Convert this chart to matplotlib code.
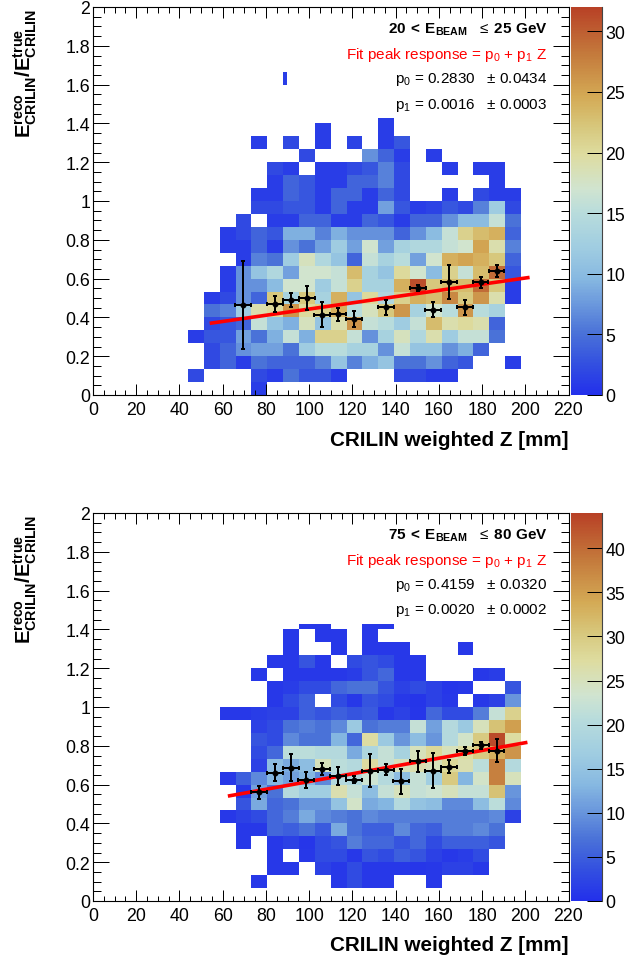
#!/usr/bin/env python3
"""Peak response of the CRILIN calorimeter versus weighted Z for two beam energies"""

import numpy as np
import matplotlib
matplotlib.use('Agg')
import matplotlib.pyplot as plt
from matplotlib.colors import LinearSegmentedColormap
from matplotlib.patches import Rectangle
from matplotlib.ticker import MultipleLocator, FixedLocator

plt.rcParams['font.family'] = ['Liberation Sans', 'DejaVu Sans']
plt.rcParams['mathtext.fontset'] = 'custom'
plt.rcParams['mathtext.rm'] = 'Liberation Sans'
plt.rcParams['mathtext.bf'] = 'Liberation Sans:bold'
plt.rcParams['mathtext.default'] = 'regular'

# histogram bins that hold entries start at this x bin
FIRST_COL = 6

# counts per cell, one row per y bin from the bottom, 0 means empty
counts_low = [
    [0, 0, 0, 0, 1, 0, 0, 0, 0, 0, 0, 0, 0, 0, 0, 0, 0, 0, 0, 0, 0],
    [2, 0, 0, 0, 2, 1, 5, 3, 3, 1, 0, 0, 0, 2, 2, 1, 1, 0, 0, 0, 0],
    [0, 2, 4, 1, 5, 4, 4, 4, 6, 11, 6, 9, 11, 5, 5, 7, 4, 3, 0, 0, 1],
    [0, 2, 4, 7, 8, 8, 5, 12, 15, 15, 13, 13, 7, 16, 11, 11, 7, 9, 4, 0, 0],
    [1, 3, 3, 8, 5, 9, 16, 9, 21, 21, 16, 7, 13, 18, 14, 19, 12, 16, 16, 5, 0],
    [0, 2, 3, 4, 16, 11, 9, 18, 11, 19, 26, 16, 15, 12, 16, 23, 19, 20, 19, 4, 0],
    [0, 5, 6, 12, 19, 20, 26, 20, 21, 24, 15, 18, 22, 26, 13, 17, 15, 26, 15, 13, 0],
    [0, 1, 2, 7, 4, 22, 13, 22, 13, 24, 11, 20, 14, 21, 24, 23, 27, 22, 26, 19, 1],
    [0, 0, 1, 7, 7, 10, 17, 17, 12, 16, 21, 13, 13, 24, 31, 22, 23, 23, 29, 22, 1],
    [0, 0, 1, 7, 11, 14, 8, 17, 17, 16, 23, 13, 11, 20, 17, 10, 21, 16, 23, 29, 3],
    [0, 0, 0, 1, 6, 5, 12, 18, 14, 11, 4, 16, 13, 15, 8, 17, 24, 25, 24, 22, 4],
    [0, 0, 1, 1, 4, 1, 7, 5, 8, 12, 8, 17, 8, 13, 14, 14, 16, 17, 25, 19, 6],
    [0, 0, 1, 2, 4, 3, 9, 9, 6, 9, 7, 7, 7, 4, 7, 10, 16, 21, 23, 24, 4],
    [0, 0, 0, 2, 0, 1, 1, 4, 4, 1, 1, 4, 3, 1, 4, 4, 7, 10, 10, 16, 5],
    [0, 0, 0, 0, 2, 2, 3, 3, 1, 4, 1, 1, 8, 3, 1, 1.5, 3, 2, 6, 12, 2],
    [0, 0, 0, 0, 1, 1, 4, 3, 1, 4, 4, 1, 4, 2, 0, 0, 1, 0, 2, 1, 1],
    [0, 0, 0, 0, 0, 1, 4, 3, 1, 1, 4, 4, 6, 2, 0, 0, 0, 0, 0, 1, 0],
    [0, 0, 0, 0, 0, 2, 1, 0, 1, 1, 2, 3, 6, 2, 0, 0, 1, 0, 1, 1, 0],
    [0, 0, 0, 0, 0, 0, 0, 2, 0, 0, 0, 7, 4, 1, 0, 1, 0, 0, 0, 0, 0],
    [0, 0, 0, 0, 1, 0, 2, 0, 1, 0, 1.5, 0, 1, 3, 0, 0, 0, 0, 0, 0, 0],
    [0, 0, 0, 0, 0, 0, 0, 0, 1, 0, 0, 0, 1, 0, 0, 0, 0, 0, 0, 0, 0],
    [0, 0, 0, 0, 0, 0, 0, 0, 0, 0, 0, 0, 1, 0, 0, 0, 0, 0, 0, 0, 0],
    [0, 0, 0, 0, 0, 0, 0, 0, 0, 0, 0, 0, 0, 0, 0, 0, 0, 0, 0, 0, 0],
    [0, 0, 0, 0, 0, 0, 0, 0, 0, 0, 0, 0, 0, 0, 0, 0, 0, 0, 0, 0, 0],
    [0, 0, 0, 0, 0, 0, 1, 0, 0, 0, 0, 0, 0, 0, 0, 0, 0, 0, 0, 0, 0],
]

counts_high = [
    [0, 0, 0, 0, 0, 0, 0, 0, 0, 0, 0, 0, 0, 0, 0, 0, 0, 0, 0, 0, 0],
    [0, 0, 0, 0, 1, 0, 0, 0, 0, 1, 3, 1, 1, 0, 0, 1, 0, 0, 0, 0, 0],
    [0, 0, 0, 0, 0, 1, 1, 0, 2, 1, 3, 1, 1, 1, 0.7, 1, 2, 2, 1, 0, 0],
    [0, 0, 0, 0, 0, 1, 0, 1, 3, 3, 1, 4, 3, 5, 4, 2, 1, 1.5, 3, 0, 0],
    [0, 0, 0, 1, 0, 1, 2, 0.7, 3, 4, 8, 6, 6, 4, 6, 3, 5, 5, 5, 4, 0],
    [0, 0, 0, 1, 1, 6, 5, 7, 4.5, 12, 7, 5, 5, 9, 6, 5, 8, 8, 9, 7, 0],
    [0, 0, 1, 2, 3, 6, 8, 12, 9, 8, 7, 9, 8, 8, 8, 8, 8, 8, 8, 9, 2],
    [0, 0, 0, 4, 12, 6, 7, 10, 10, 15, 24, 12, 13, 20, 15, 14, 9, 9, 14, 21, 9],
    [0, 0, 0, 1, 11, 7, 20, 17, 17, 26, 22, 14, 22, 25, 22, 23, 25, 22, 22, 31, 10],
    [0, 0, 1, 5, 9, 13, 11, 13, 9, 20, 19, 23, 20, 14, 22, 17, 30, 13, 24, 38, 25],
    [0, 0, 0, 0, 2, 14, 12, 14, 25, 21, 20, 27, 22, 25, 26, 25, 28, 26, 21, 38, 20],
    [0, 0, 0, 0, 3, 6, 21, 21, 20, 20, 12, 19, 22, 18, 25, 28, 25, 27, 30, 33, 36],
    [0, 0, 0, 0, 4, 3, 9, 7, 7, 13, 6, 27, 16, 10, 14, 10, 20, 24, 30, 43, 27],
    [0, 0, 0, 0, 2, 3, 7, 8, 7, 9, 16, 7, 8, 8, 22, 11, 20, 16, 25, 31, 35],
    [0, 0, 1, 1, 1.5, 2, 2, 5, 4, 5, 4, 4.5, 1, 2, 0.8, 6, 3, 3, 8, 22, 29],
    [0, 0, 0, 0, 0, 1, 3, 5, 0, 3, 1, 4, 3, 1, 0.6, 2, 1, 0, 1, 2, 10],
    [0, 0, 0, 0, 0, 1, 1.5, 3, 3, 6, 7, 7, 4, 2, 3, 2, 0.7, 1, 0, 0, 4],
    [0, 0, 0, 0, 1, 0, 1, 1, 1, 1, 1.5, 4, 6, 1, 1, 0, 0, 0, 1, 1.5, 0],
    [0, 0, 0, 0, 0, 1, 1, 4, 1, 0, 3, 4, 3, 1, 1, 0, 0, 0, 0, 0, 0],
    [0, 0, 0, 0, 0, 0, 1, 0, 0, 1, 0, 1, 1, 1, 0, 0, 0, 1, 0, 0, 0],
    [0, 0, 0, 0, 0, 0, 1, 0, 1, 1, 0, 1, 0, 0, 0, 0, 0, 0, 0, 0, 0],
    [0, 0, 0, 0, 0, 0, 0, 1, 1, 0, 0, 1, 1, 0, 0, 0, 0, 0, 0, 0, 0],
]

# profile points
z_low = [69.6, 84.2, 91.5, 98.9, 106.1, 113.5, 120.8, 135.4, 150.2, 157.4,
         164.8, 172.2, 179.3, 186.7]
resp_low = [0.464, 0.469, 0.490, 0.500, 0.414, 0.417, 0.392, 0.452, 0.552,
            0.440, 0.584, 0.452, 0.580, 0.641]
err_low = [0.228, 0.043, 0.036, 0.064, 0.064, 0.034, 0.040, 0.040, 0.017,
           0.040, 0.088, 0.038, 0.030, 0.031]

z_high = [76.9, 84.1, 91.5, 98.7, 106.1, 113.5, 120.7, 128.0, 135.4, 142.6,
          150.2, 157.4, 164.8, 172.2, 179.6, 186.7]
resp_high = [0.560, 0.661, 0.687, 0.624, 0.680, 0.643, 0.625, 0.672, 0.677,
             0.617, 0.720, 0.672, 0.692, 0.773, 0.804, 0.775]
err_high = [0.033, 0.045, 0.070, 0.039, 0.032, 0.047, 0.017, 0.084, 0.030,
            0.064, 0.054, 0.092, 0.033, 0.020, 0.018, 0.060]

Z_HALF_BIN = 3.67

# fit results and range of the drawn line
fit_low = (0.2830, 0.0016)
fit_high = (0.4159, 0.0020)
fit_range_low = (54.0, 202.0)
fit_range_high = (62.4, 201.0)

titles = [r'$\mathbf{20\,{<}\,E_{BEAM}}\ \ \leq\,\mathbf{25\ GeV}$',
          r'$\mathbf{75\,{<}\,E_{BEAM}}\ \ \leq\,\mathbf{80\ GeV}$']
fit_label = r'Fit peak response = p$_{0}$ + p$_{1}$ Z'
p0_labels = ['p$_{0}$ = 0.2830   \u00b1 0.0434', 'p$_{0}$ = 0.4159   \u00b1 0.0320']
p1_labels = ['p$_{1}$ = 0.0016   \u00b1 0.0003', 'p$_{1}$ = 0.0020   \u00b1 0.0002']

z_maxima = [32, 44]
z_ticks = [[0, 5, 10, 15, 20, 25, 30], [0, 5, 10, 15, 20, 25, 30, 35, 40]]

# palette
palette = [(0.00, '#2330eb'), (0.08, '#3350e0'), (0.16, '#4b73d8'),
           (0.30, '#87b9e1'), (0.38, '#a0cde1'), (0.47, '#b8dcdc'),
           (0.53, '#d0e4d0'), (0.62, '#dedca0'), (0.69, '#d7c87d'),
           (0.77, '#d4aa55'), (0.88, '#c47a3c'), (1.00, '#b84126')]
cmap = LinearSegmentedColormap.from_list('crilin', palette)

W, H = 630.0, 962.0
FONT_TICK = 12.8
FONT_TITLE = 11


def px_axes(left, top, right, bottom):
    """Axes rectangle from pixel edges of the figure"""
    return [left / W, 1 - bottom / H, (right - left) / W, (bottom - top) / H]


def px_pt(n):
    """Pixels to points at 100 dpi"""
    return n * 0.72


def draw_panel(fig, top, bottom, counts, z, resp, err, fit, fit_range, i):
    """Draw one histogram with its profile points, fit and colour bar"""
    ax = fig.add_axes(px_axes(93, top, 568.5, bottom))
    cax = fig.add_axes(px_axes(571, top, 602, bottom))

    x_edges = np.linspace(0, 220, 31)
    y_edges = np.linspace(0, 2, 31)
    data = np.array(counts, dtype=float)
    rows, cols = data.shape
    masked = np.ma.masked_equal(data, 0)
    mesh = ax.pcolormesh(x_edges[FIRST_COL:FIRST_COL + cols + 1],
                         y_edges[:rows + 1], masked, cmap=cmap,
                         vmin=0, vmax=z_maxima[i], zorder=1)

    # white box behind the text hides the top of the histogram
    ax.add_patch(Rectangle((89.6, 1.43), 220 - 89.6, 2 - 1.43, fc='white',
                           ec='none', zorder=1.5))

    line_x = np.array(fit_range)
    ax.plot(line_x, fit[0] + fit[1] * line_x, color='#ff0000',
            lw=px_pt(3.6), zorder=3, solid_capstyle='butt')
    ax.errorbar(z, resp, xerr=Z_HALF_BIN, yerr=err, fmt='o', color='black',
                ms=px_pt(4.5), elinewidth=px_pt(2), capsize=px_pt(2.4),
                capthick=px_pt(2), zorder=4)

    ax.set_xlim(0, 220)
    ax.set_ylim(0, 2)
    ax.xaxis.set_major_locator(MultipleLocator(20))
    ax.xaxis.set_minor_locator(MultipleLocator(5))
    ax.yaxis.set_major_locator(MultipleLocator(0.2))
    ax.yaxis.set_minor_locator(MultipleLocator(0.05))
    ax.set_yticks(np.arange(0, 2.01, 0.2))
    ax.set_yticklabels(['0', '0.2', '0.4', '0.6', '0.8', '1', '1.2', '1.4',
                        '1.6', '1.8', '2'])
    ax.tick_params(axis='x', which='major', direction='in', top=True,
                   length=px_pt(11), width=0.72, labelsize=FONT_TICK, pad=4.5)
    ax.tick_params(axis='x', which='minor', direction='in', top=True,
                   length=px_pt(5.5), width=0.72)
    ax.tick_params(axis='y', which='major', direction='in', right=True,
                   length=px_pt(16), width=0.72, labelsize=FONT_TICK, pad=2)
    ax.tick_params(axis='y', which='minor', direction='in', right=True,
                   length=px_pt(8), width=0.72)
    ax.set_axisbelow(False)

    fig.text(569 / W, 1 - (bottom + 44) / H, 'CRILIN weighted Z [mm]',
             ha='right', va='center', fontsize=14.9, fontweight='bold')
    fig.text(25 / W, 1 - (top + 65) / H,
             r'$\mathbf{E^{reco}_{CRILIN}/E^{true}_{CRILIN}}$',
             rotation=90, ha='center', va='center', fontsize=14.6)

    text_x = 547.5 / W
    fig.text(text_x, 1 - (top + 22) / H, titles[i], ha='right', va='center',
             fontsize=FONT_TITLE, color='black')
    fig.text(text_x, 1 - (top + 47) / H, fit_label, ha='right', va='center',
             fontsize=FONT_TITLE, color='#ff0000')
    fig.text(text_x, 1 - (top + 71) / H, p0_labels[i], ha='right', va='center',
             fontsize=FONT_TITLE, color='black')
    fig.text(text_x, 1 - (top + 97) / H, p1_labels[i], ha='right', va='center',
             fontsize=FONT_TITLE, color='black')

    cb = fig.colorbar(mesh, cax=cax)
    cb.outline.set_visible(False)
    cax.spines['right'].set_visible(True)
    cax.spines['right'].set_linewidth(0.8)
    cax.spines['right'].set_color('#444444')
    cax.yaxis.set_major_locator(FixedLocator(z_ticks[i]))
    cax.minorticks_off()
    cax.tick_params(axis='y', direction='in', length=px_pt(15), width=0.72,
                    labelsize=FONT_TICK, pad=2.5)


if __name__ == '__main__':
    fig = plt.figure(figsize=(W / 100, H / 100), dpi=100)
    draw_panel(fig, 8, 396, counts_low, z_low, resp_low, err_low, fit_low,
               fit_range_low, 0)
    draw_panel(fig, 514, 902, counts_high, z_high, resp_high, err_high,
               fit_high, fit_range_high, 1)
    fig.savefig('out.png', dpi=100)
